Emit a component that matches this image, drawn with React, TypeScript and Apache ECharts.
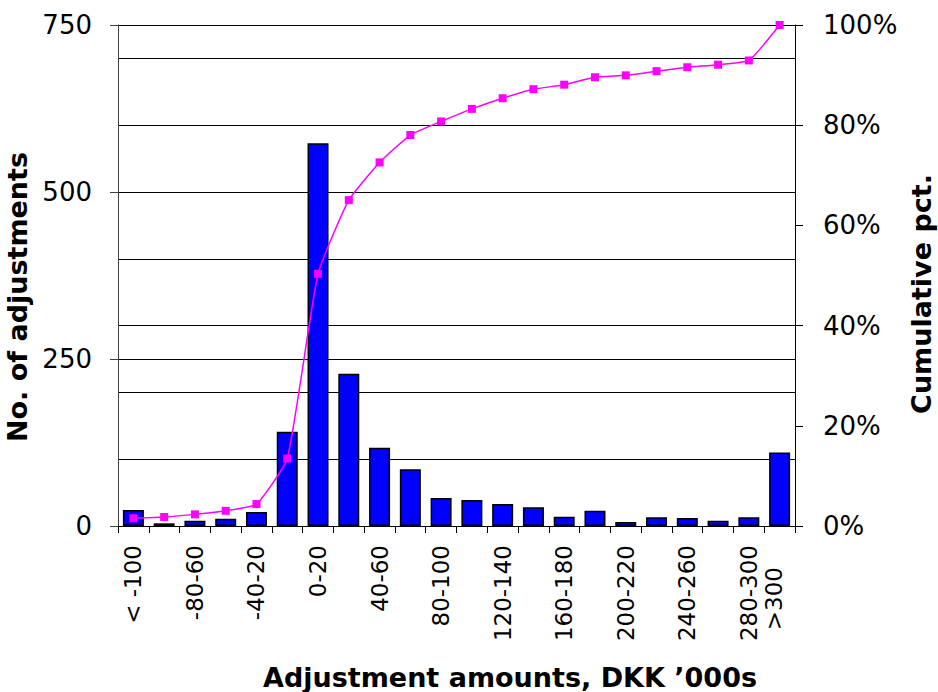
import React, { useEffect, useRef } from "react";
import * as echarts from "echarts";

// Adjustment size bands, DKK '000s
const categories = [
  "< -100", "-100-80", "-80-60", "-60-40", "-40-20", "-20-0",
  "0-20", "20-40", "40-60", "60-80", "80-100", "100-120",
  "120-140", "140-160", "160-180", "180-200", "200-220", "220-240",
  "240-260", "260-280", "280-300", ">300",
];

// Number of adjustments in each band
const counts = [
  24, 4, 8, 11, 21, 141,
  573, 228, 117, 85, 42, 39,
  33, 28, 14, 23, 6, 13,
  12, 8, 13, 110,
];

const countTicks = [0, 250, 500, 750];
const pctTicks = [0, 20, 40, 60, 80, 100];

// Running share of all adjustments, in percent
const total = counts.reduce((a, b) => a + b, 0);
const cumulativePct: number[] = [];
counts.reduce((acc, v) => {
  const next = acc + v;
  cumulativePct.push(+((next / total) * 100).toFixed(2));
  return next;
}, 0);

const FONT = "DejaVu Sans";
const TITLE_SIZE = 27;

export default function App() {
  const ref = useRef<HTMLDivElement>(null);

  useEffect(() => {
    if (!ref.current) return;
    const chart = echarts.init(ref.current, undefined, { renderer: "svg" });
    const lastIdx = categories.length - 1;

    chart.setOption({
      animation: false,
      backgroundColor: "#ffffff",
      grid: {
        left: 118,
        right: 143,
        top: 25,
        bottom: 166,
        containLabel: false,
        outerBoundsMode: "none",
      },
      xAxis: {
        type: "category",
        data: categories,
        boundaryGap: true,
        name: "Adjustment amounts, DKK \u2019000s",
        nameLocation: "middle",
        nameGap: 138,
        nameTextStyle: {
          fontFamily: FONT,
          fontWeight: "bold",
          fontSize: TITLE_SIZE,
          color: "#000",
          padding: [0, 0, 0, 107],
        },
        axisLine: { lineStyle: { color: "#000", width: 1 } },
        axisTick: { show: true, interval: 0, length: 7, lineStyle: { color: "#000" } },
        axisLabel: {
          interval: (i: number) => i % 2 === 0 || i === lastIdx,
          rotate: 90,
          margin: 19,
          fontFamily: FONT,
          fontSize: 23,
          color: "#000",
          formatter: (v: string, i: number) => (i === lastIdx ? `{last|${v}}` : v),
          rich: {
            last: {
              fontFamily: FONT,
              fontSize: 23,
              color: "#000",
              padding: [0, 22, 12, 0],
            },
          },
        },
        splitLine: { show: false },
      },
      yAxis: [
        {
          type: "value",
          position: "left",
          min: countTicks[0],
          max: countTicks[countTicks.length - 1],
          interval: countTicks[1] - countTicks[0],
          name: "No. of adjustments",
          nameLocation: "middle",
          nameRotate: 90,
          nameGap: 76,
          nameTextStyle: {
            fontFamily: FONT,
            fontWeight: "bold",
            fontSize: TITLE_SIZE,
            color: "#000",
            padding: [0, 43, 0, 0],
          },
          axisLine: { show: true, lineStyle: { color: "#404040", width: 1 } },
          axisTick: { show: true, length: 8, lineStyle: { color: "#404040" } },
          axisLabel: { margin: 26, fontFamily: FONT, fontSize: 26, color: "#000" },
          splitLine: { show: true, lineStyle: { color: "#000", width: 1 } },
        },
        {
          type: "value",
          position: "right",
          min: pctTicks[0],
          max: pctTicks[pctTicks.length - 1],
          interval: pctTicks[1] - pctTicks[0],
          name: "Cumulative pct.",
          nameLocation: "middle",
          nameRotate: 90,
          nameGap: 113,
          nameTextStyle: {
            fontFamily: FONT,
            fontWeight: "bold",
            fontSize: TITLE_SIZE,
            color: "#000",
            padding: [0, 37, 0, 0],
          },
          axisLine: { show: true, lineStyle: { color: "#000", width: 1 } },
          axisTick: { show: true, length: 8, lineStyle: { color: "#000" } },
          axisLabel: {
            margin: 28,
            fontFamily: FONT,
            fontSize: 26,
            color: "#000",
            formatter: "{value}%",
          },
          splitLine: { show: false },
        },
        {
          // finer gridlines every 100 adjustments
          type: "value",
          position: "left",
          min: countTicks[0],
          max: countTicks[countTicks.length - 1],
          interval: 100,
          axisLine: { show: false },
          axisTick: { show: false },
          axisLabel: { show: false },
          splitLine: { show: true, lineStyle: { color: "#000", width: 1 } },
        },
      ],
      series: [
        {
          name: "No. of adjustments",
          type: "bar",
          yAxisIndex: 0,
          data: counts,
          barWidth: 21,
          z: 2,
          itemStyle: { color: "#0000ff", borderColor: "#000", borderWidth: 1.5 },
        },
        {
          name: "Cumulative pct.",
          type: "line",
          yAxisIndex: 1,
          data: cumulativePct,
          smooth: 0.15,
          symbol: "rect",
          symbolSize: 8,
          z: 3,
          lineStyle: { color: "#ff00ff", width: 1.5 },
          itemStyle: { color: "#ff00ff" },
        },
      ],
    });

    return () => chart.dispose();
  }, []);

  return (
    <div
      ref={ref}
      style={{ position: "absolute", left: 0, top: 0, width: 938, height: 692 }}
    />
  );
}
